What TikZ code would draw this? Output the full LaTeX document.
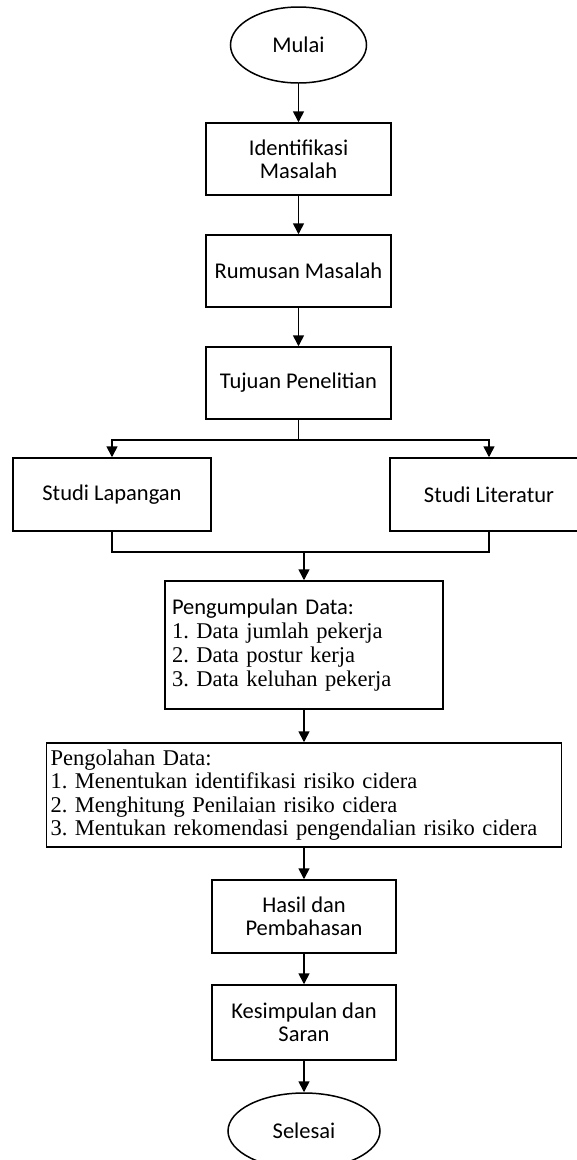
\documentclass[tikz,border=0pt]{standalone}
\usepackage{fontspec}
\setmainfont{Carlito}
\newfontfamily\tnr{Liberation Serif}
\usetikzlibrary{shapes.geometric,arrows.meta}
\frenchspacing
\begin{document}
\begin{tikzpicture}[x=1pt,y=-1pt,
  cal/.style={font=\fontsize{22.5}{23}\selectfont},
  box/.style={draw,rectangle,line width=1.5pt,inner sep=0pt,align=center,cal},
  oval/.style={draw,ellipse,line width=1.5pt,inner sep=0pt,align=center,cal},
  listbox/.style={draw,rectangle,line width=1.5pt,align=left,inner ysep=0pt},
  arr/.style={line width=1.6pt,-{Triangle[width=11pt,length=11pt]}},
  ln/.style={line width=1.6pt}]
\useasboundingbox (0,0) rectangle (576,1160);
\node[oval,minimum width=136pt,minimum height=76pt] (mulai) at (298.5,45) {Mulai};
\node[box,minimum width=185pt,minimum height=72pt] (ident) at (298.5,159) {Identifikasi\\Masalah};
\node[box,minimum width=185pt,minimum height=72pt] (rumus) at (298.5,271) {Rumusan Masalah};
\node[box,minimum width=185pt,minimum height=72pt] (tujuan) at (298.5,383) {Tujuan Penelitian};
\node[box,minimum width=198pt,minimum height=73pt] (lap) at (112,494.5) {Studi Lapangan};
\node[box,minimum width=198pt,minimum height=73pt] (lit) at (489,494.5) {Studi Literatur};
\node[listbox,text width=264pt,inner xsep=7pt,minimum height=128pt,font=\fontsize{22.5}{24}\selectfont] (kumpul) at (304,645)
  {Pengumpulan Data:\\\tnr\fontsize{22.5}{24}\selectfont 1. Data jumlah pekerja\\2. Data postur kerja\\3. Data keluhan pekerja};
\node[listbox,text width=507pt,inner xsep=4pt,minimum height=104pt,font=\tnr\fontsize{22.5}{23.5}\selectfont] (olah) at (304,795)
  {Pengolahan Data:\\1. Menentukan identifikasi risiko cidera\\2. Menghitung Penilaian risiko cidera\\3. Mentukan rekomendasi pengendalian risiko cidera};
\node[box,minimum width=184pt,minimum height=73pt] (hasil) at (304,916.5) {Hasil dan\\Pembahasan};
\node[box,minimum width=184pt,minimum height=75pt] (simpul) at (304,1022.5) {Kesimpulan dan\\Saran};
\node[oval,minimum width=152pt,minimum height=76pt] (selesai) at (304,1131) {Selesai};
\coordinate (split) at (298.5,440);
\coordinate (merge) at (304,552);
\draw[arr] (mulai) -- (ident);
\draw[arr] (ident) -- (rumus);
\draw[arr] (rumus) -- (tujuan);
\draw[ln] (tujuan) -- (split);
\draw[arr] (split) -| (lap.north);
\draw[arr] (split) -| (lit.north);
\draw[ln] (lap.south) |- (merge);
\draw[ln] (lit.south) |- (merge);
\draw[arr] (merge) -- (kumpul);
\draw[arr] (kumpul) -- (olah);
\draw[arr] (olah) -- (hasil);
\draw[arr] (hasil) -- (simpul);
\draw[arr] (simpul) -- (selesai);
\end{tikzpicture}
\end{document}
